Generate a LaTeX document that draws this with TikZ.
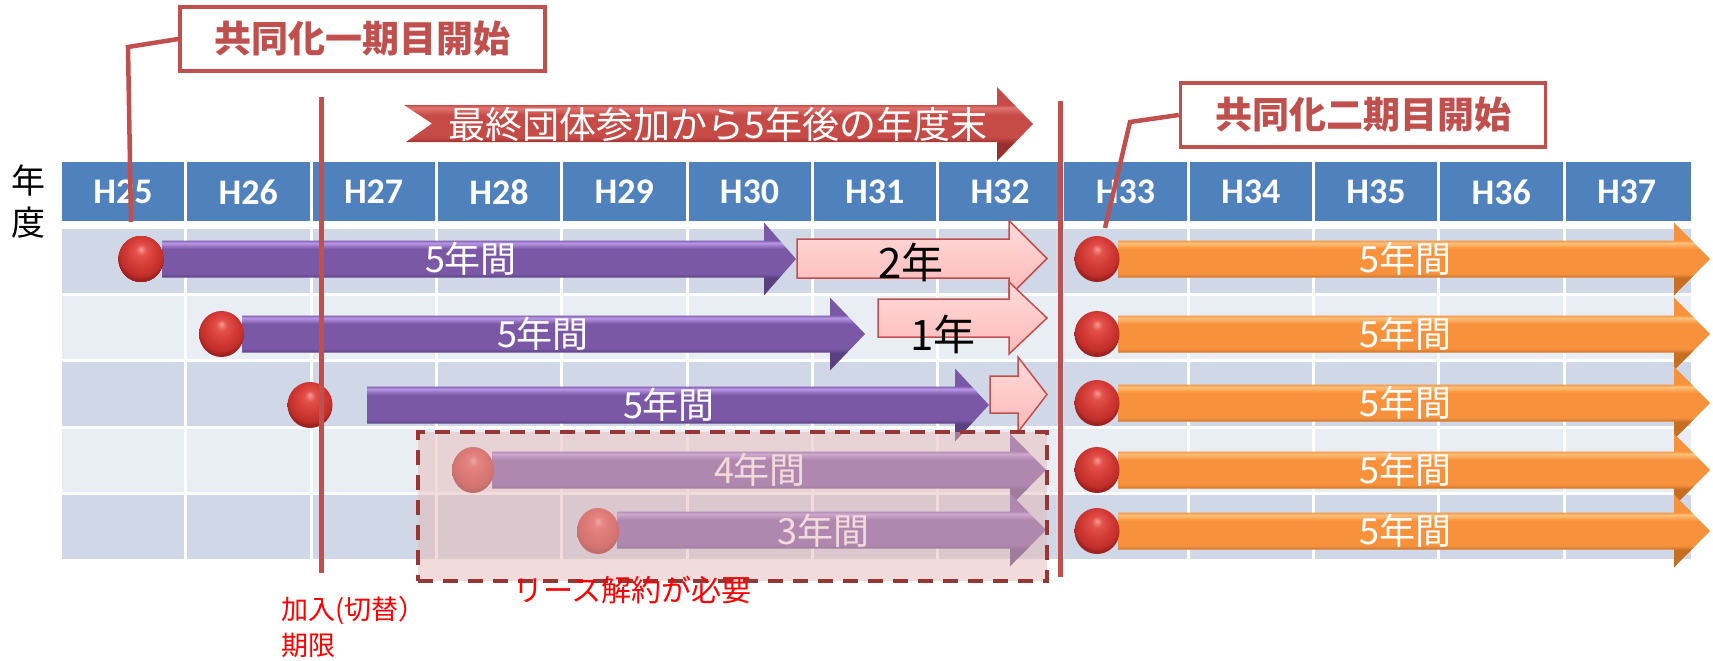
\documentclass[tikz,border=0pt]{standalone}
\usepackage{fontspec}
\newfontfamily\jp{Noto Sans CJK JP}
\newfontfamily\hfont{Carlito}
\usetikzlibrary{shapes.geometric}
\definecolor{hdrblue}{HTML}{4F81BD}
\definecolor{rowdark}{HTML}{D0D8E8}
\definecolor{rowlight}{HTML}{E9EDF4}
\definecolor{callred}{HTML}{C0504D}
\definecolor{dashred}{HTML}{953735}
\definecolor{purpTop}{HTML}{B896E6}
\definecolor{purpMid}{HTML}{7A58A6}
\definecolor{purpBot}{HTML}{5A4080}
\definecolor{orgTop}{HTML}{FCC078}
\definecolor{orgMid}{HTML}{F7913C}
\definecolor{orgBot}{HTML}{C86E22}
\definecolor{pinkTop}{HTML}{FFDADA}
\definecolor{pinkBot}{HTML}{FFB9B9}
\definecolor{banTop}{HTML}{E07470}
\definecolor{banMid}{HTML}{C64A46}
\definecolor{banBot}{HTML}{9A302D}
\definecolor{veil}{HTML}{E6B9B8}
\definecolor{rbA}{HTML}{F49A94}
\definecolor{rbB}{HTML}{E4504A}
\definecolor{rbC}{HTML}{D23A35}
\definecolor{rbD}{HTML}{C02E2A}
\definecolor{rbE}{HTML}{A02220}
\pgfdeclareradialshading{redball}{\pgfpoint{0bp}{11bp}}{color(0bp)=(rbA); color(6bp)=(rbB); color(16bp)=(rbC); color(24bp)=(rbD); color(27bp)=(rbE); color(50bp)=(rbE)}
\pgfdeclareverticalshading{purpshade}{100bp}{color(0bp)=(purpBot); color(37bp)=(purpBot); color(40bp)=(purpMid); color(57bp)=(purpMid); color(61bp)=(purpTop); color(63bp)=(purpMid); color(100bp)=(purpMid)}
\pgfdeclareverticalshading{orgshade}{100bp}{color(0bp)=(orgBot); color(37bp)=(orgBot); color(40bp)=(orgMid); color(57bp)=(orgMid); color(61bp)=(orgTop); color(63bp)=(orgMid); color(100bp)=(orgMid)}
\pgfdeclareverticalshading{banshade}{100bp}{color(0bp)=(banBot); color(37bp)=(banBot); color(41bp)=(banMid); color(56bp)=(banMid); color(61bp)=(banTop); color(63bp)=(banMid); color(100bp)=(banMid)}
% style, x start, x head base, x tip, y centre, bar half height, head half height
\newcommand{\yrarrow}[7]{%
  \path[#1] (#2,#5-#6) -- (#3,#5-#6) -- (#3,#5-#7) -- (#4,#5) -- (#3,#5+#7) -- (#3,#5+#6) -- (#2,#5+#6) -- cycle;}
\begin{document}
\begin{tikzpicture}[x=1pt,y=-1pt,
  hdr/.style={font=\hfont\bfseries\fontsize{36}{40}\selectfont, text=white, inner sep=0pt},
  ball/.style={ellipse, minimum width=45pt, minimum height=46pt, inner sep=0pt, shade, shading=redball},
  purplearrow/.style={shade, shading=purpshade},
  orangearrow/.style={shade, shading=orgshade},
  pinkarrow/.style={top color=pinkTop, bottom color=pinkBot, draw=callred, line width=1.5pt},
  banner/.style={shade, shading=banshade},
  lbl/.style={font=\jp\fontsize{36}{40}\selectfont, text=white, inner sep=0pt},
  yearlbl/.style={font=\jp\fontsize{42}{46}\selectfont, text=black, inner sep=0pt},
  callout/.style={draw=callred, line width=3.5pt, fill=white, text=callred, inner sep=0pt,
    font=\jp\bfseries\fontsize{37}{40}\selectfont, minimum width=365pt, minimum height=64pt},
  leader/.style={draw=callred, line width=4.5pt},
  vline/.style={draw=callred, line width=5pt},
  veilbox/.style={fill=veil, fill opacity=0.5, draw=dashred, line width=4pt, dash pattern=on 15pt off 10pt, inner sep=0pt},
  redlbl/.style={text=red, inner sep=0pt, anchor=west}
]
\useasboundingbox (0,0) rectangle (1713,661);
% table
\fill[hdrblue] (62,162) rectangle (1691,221);
\foreach \r/\c in {0/rowdark,1/rowlight,2/rowdark,3/rowlight,4/rowdark}
  \fill[\c] (62,229+\r*66.5) rectangle (1691,229+\r*66.5+63.5);
\foreach \k in {1,...,12}
  \draw[white, line width=3pt] (62+\k*125.3-1.5,162) -- (62+\k*125.3-1.5,561);
\foreach \k in {0,...,12} {
  \pgfmathtruncatemacro\yr{25+\k}
  \node[hdr] (h\yr) at (62+\k*125.3+61,192) {H\yr};
}
\node[font=\jp\fontsize{34}{42}\selectfont, inner sep=0pt] (nen) at (29,181) {年};
\node[font=\jp\fontsize{34}{42}\selectfont, inner sep=0pt] (do) at (29,223) {度};
% banner
\path[banner] (404,105) -- (997,105) -- (997,87) -- (1033,124) -- (997,161) -- (997,142) -- (406,142) -- (432,123.5) -- cycle;
\node[lbl, font=\jp\fontsize{37}{40}\selectfont] (ban) at (718,124) {最終団体参加から5年後の年度末};
% purple arrows
\yrarrow{purplearrow}{162}{764}{796}{259}{18.5}{36.5}
\yrarrow{purplearrow}{242}{830}{865}{334}{18.5}{36.5}
\yrarrow{purplearrow}{367}{955}{989}{405}{18.5}{36.5}
\yrarrow{purplearrow}{492}{1010}{1046}{470}{18.5}{36.5}
\yrarrow{purplearrow}{617}{1010}{1046}{530}{18.5}{36.5}
% pink arrows
\yrarrow{pinkarrow}{797}{1009}{1047}{258.5}{19.5}{38}
\yrarrow{pinkarrow}{878}{1009}{1047}{318}{19}{36}
\yrarrow{pinkarrow}{990}{1018}{1047}{394.5}{18.5}{37.5}
% orange arrows
\foreach \yc in {259,334,403,470,531}
  \yrarrow{orangearrow}{1118}{1674}{1710}{\yc}{18.5}{36.5}
% balls
\node[ball] (b1) at (141,259) {};
\node[ball] (b2) at (221.5,334) {};
\node[ball] (b3) at (310,405) {};
\node[ball, minimum width=42pt] (b4) at (473,470) {};
\node[ball, minimum width=42pt] (b5) at (598,531) {};
\foreach \yc [count=\i] in {259,334,403,470,531}
  \node[ball] (o\i) at (1097,\yc) {};
% arrow labels
\node[lbl] (p1) at (471,259) {5年間};
\node[lbl] (p2) at (543,334) {5年間};
\node[lbl] (p3) at (669,405) {5年間};
\node[lbl] (p4) at (760,470) {4年間};
\node[lbl] (p5) at (823,531) {3年間};
\node[yearlbl] (k1) at (911,262) {2年};
\node[yearlbl] (k2) at (943,334) {1年};
\foreach \yc [count=\i] in {259,334,403,470,531}
  \node[lbl] (q\i) at (1405,\yc) {5年間};
% lease box overlay
\node[veilbox, minimum width=629pt, minimum height=149pt] (lease) at (732.5,506.5) {};
% vertical lines
\coordinate (v1t) at (321,97);
\coordinate (v1b) at (321,573);
\coordinate (v2t) at (1060,101);
\coordinate (v2b) at (1060,577);
\draw[vline] (v1t) -- (v1b);
\draw[vline] (v2t) -- (v2b);
% callouts
\node[callout] (c1) at (362.5,39) {共同化一期目開始};
\node[callout] (c2) at (1363,115) {共同化二期目開始};
\coordinate (l1a) at (128,47);
\coordinate (l1b) at (131,222);
\coordinate (l2a) at (1130,122);
\coordinate (l2b) at (1105,228);
\draw[leader] (c1.west) -- (l1a) -- (l1b);
\draw[leader] (c2.west) -- (l2a) -- (l2b);
% red labels
\node[redlbl, font=\jp\fontsize{27}{32}\selectfont] (lim1) at (281,611) {加入(切替）};
\node[redlbl, font=\jp\fontsize{27}{32}\selectfont] (lim2) at (281,645) {期限};
\node[redlbl, font=\jp\fontsize{30}{34}\selectfont] (leaset) at (513,590) {リース解約が必要};
\end{tikzpicture}
\end{document}
